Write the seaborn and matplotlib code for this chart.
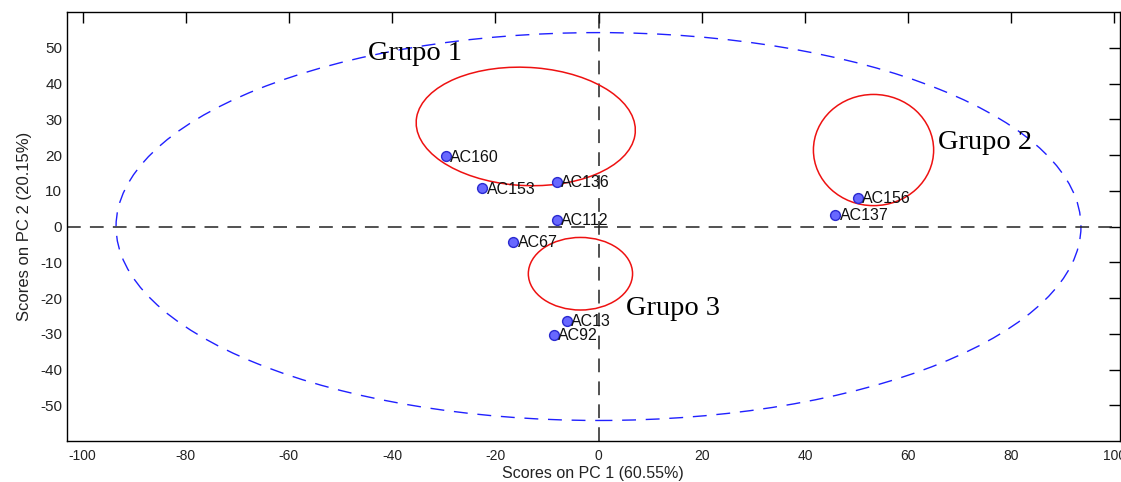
import pandas as pd
import matplotlib
matplotlib.use("Agg")
import matplotlib.pyplot as plt
from matplotlib.patches import Ellipse
import seaborn as sns

sns.set_theme(style="white")
plt.rcParams['font.family'] = ['Liberation Sans', 'DejaVu Sans']
plt.rcParams['axes.unicode_minus'] = False

# sample scores
samples = ["AC160", "AC153", "AC136", "AC112", "AC67", "AC13", "AC92", "AC156", "AC137"]
pc1 = [-29.5, -22.5, -8.1, -8.1, -16.5, -6.2, -8.7, 50.2, 45.9]
pc2 = [19.7, 10.8, 12.5, 1.9, -4.2, -26.4, -30.3, 8.1, 3.3]

# group circles: centre x, centre y, width, height, angle
grupos = ["Grupo 1", "Grupo 2", "Grupo 3"]
g_cx = [-14.1, 53.3, -3.5]
g_cy = [28.0, 21.4, -13.2]
g_w = [42.6, 23.3, 20.2]
g_h = [33.0, 31.1, 20.3]
g_ang = [-7, 0, 0]
g_tx = [-35.5, 75.0, 14.5]
g_ty = [48.5, 23.5, -23.0]

df = pd.DataFrame({"sample": samples, "PC1": pc1, "PC2": pc2})

fig = plt.figure(figsize=(11.21, 4.82), dpi=100)
ax = fig.add_axes([0.0598, 0.085, 0.939, 0.89])

# 95% confidence ellipse and zero lines
ax.add_patch(Ellipse((0, 0), 187, 108.5, fill=False, edgecolor="#2020ff",
                     lw=1.0, linestyle=(0, (10, 7))))
ax.axhline(0, color="#222222", lw=1.1, linestyle=(0, (9, 6)), zorder=1)
ax.axvline(0, color="#222222", lw=1.1, linestyle=(0, (9, 6)), zorder=1)

sns.scatterplot(data=df, x="PC1", y="PC2", ax=ax, s=50, color="#6868ff",
                edgecolor="#2a2ad0", linewidth=1.0, zorder=3, legend=False)
for name, x, y in zip(samples, pc1, pc2):
    ax.text(x + 0.8, y - 0.3, name, fontsize=11.5, color="#111111",
            va="center", ha="left", zorder=4)

for g, cx, cy, w, h, a, tx, ty in zip(grupos, g_cx, g_cy, g_w, g_h, g_ang, g_tx, g_ty):
    ax.add_patch(Ellipse((cx, cy), w, h, angle=a, fill=False, edgecolor="#ee1111",
                         lw=1.1, zorder=2))
    ax.text(tx, ty, g, fontsize=20.5, family=["Liberation Serif", "DejaVu Serif"],
            ha="center", va="center", color="black", zorder=5)

ax.set_xlim(-103, 101)
ax.set_ylim(-60, 60)
ax.set_xticks(range(-100, 101, 20))
ax.set_yticks(range(-50, 51, 10))
ax.tick_params(direction="in", length=8, width=1, top=True, right=True,
               colors="black", labelcolor="#222222")
ax.tick_params(axis="x", labelsize=10, pad=6)
ax.tick_params(axis="y", labelsize=11)
for sp in ax.spines.values():
    sp.set_color("black")
    sp.set_linewidth(1.0)
ax.set_xlabel("Scores on PC 1 (60.55%)", fontsize=11.5, color="#222222", labelpad=2)
ax.set_ylabel("Scores on PC 2 (20.15%)", fontsize=12, color="#222222", labelpad=6)

fig.savefig("out.png", dpi=100)
